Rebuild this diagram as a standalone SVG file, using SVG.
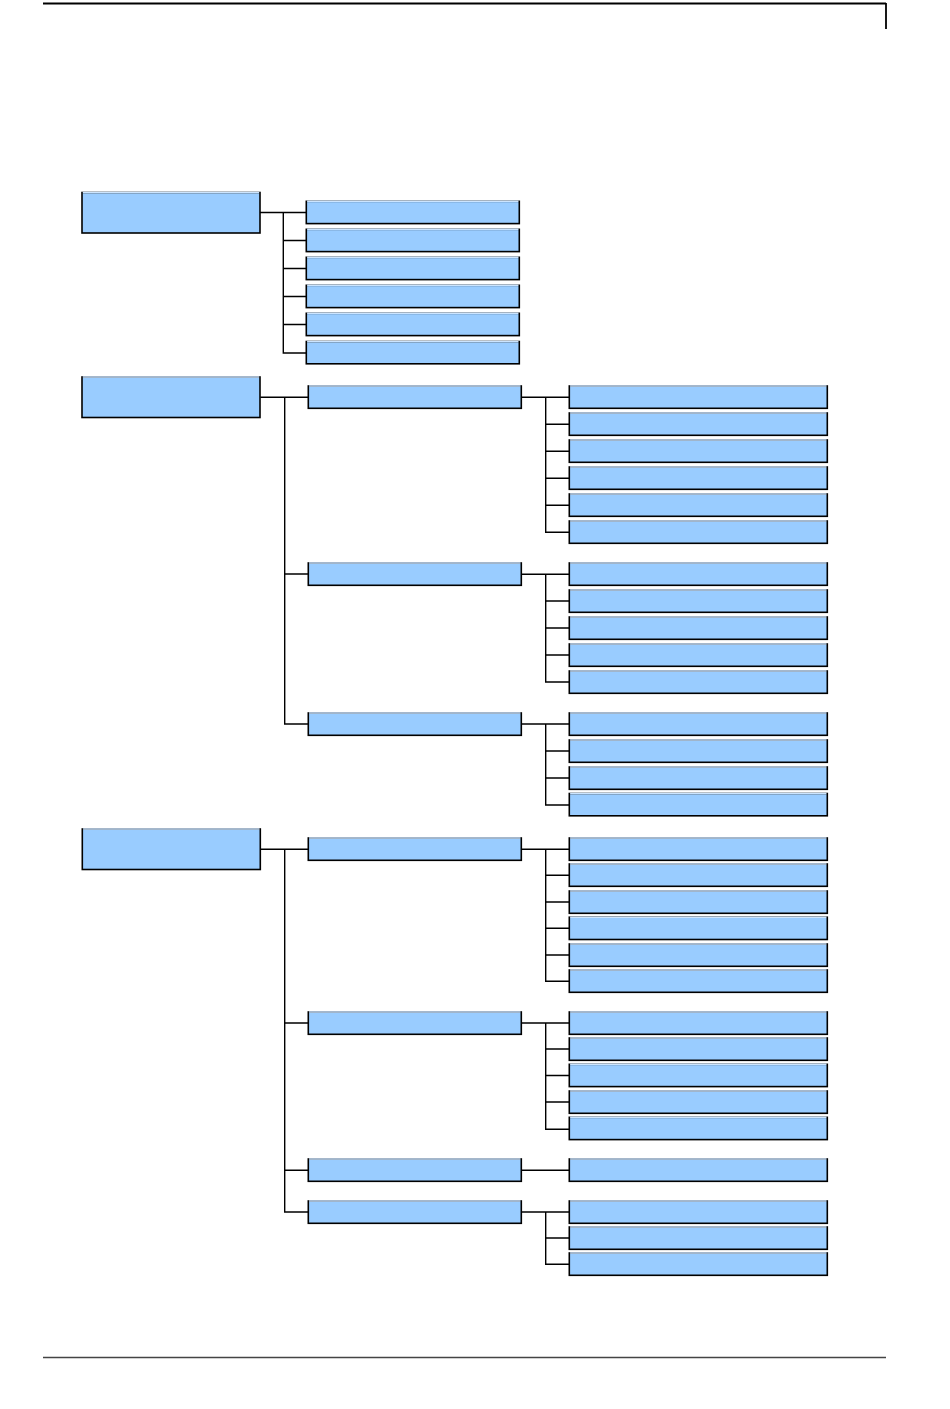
<svg xmlns="http://www.w3.org/2000/svg" width="950" height="1409" viewBox="0 0 950 1409">
<style>
.b{fill:#99ccff;stroke:#000;stroke-width:1.6}
.t{stroke:#cce5ff;stroke-width:1.6;fill:none}
.c{fill:none;stroke:#000;stroke-width:1.4}
.rule{stroke:#444;stroke-width:1.6;fill:none}
.top{stroke:#000;stroke-width:1.8;fill:none}
</style>
<defs>
<g id="n1"><rect class="b" x="0" y="0" width="178" height="40.5"/><path class="t" d="M0.8,0H177.2"/></g>
<g id="n2"><rect class="b" x="0" y="0" width="213" height="22.3"/><path class="t" d="M0.8,0H212.2"/></g>
<g id="n3"><rect class="b" x="0" y="0" width="258" height="22.3"/><path class="t" d="M0.8,0H257.2"/></g>
</defs>
<g id="page-rules">
<path class="top" d="M43,3.5H886M886,3V29"/>
<path class="rule" d="M43,1357.5H886"/>
</g>
<g id="connectors">
<path class="c" d="M259.5,212.5H306M283.3,212.5V353H306M283.3,240.5H306M283.3,268.5H306M283.3,296.5H306M283.3,324.5H306"/>
<path class="c" d="M260.3,397.3H308.3M284.7,397.3V724H308.3M284.7,574H308.3"/>
<path class="c" d="M521.7,397.3H569.3M545.7,397.3V532.3H569.3M545.7,424.3H569.3M545.7,451.3H569.3M545.7,478.3H569.3M545.7,505.3H569.3"/>
<path class="c" d="M521.7,574.2H569.3M545.7,574.2V682H569.3M545.7,601H569.3M545.7,628H569.3M545.7,655H569.3"/>
<path class="c" d="M521.7,724H569.3M545.7,724V805H569.3M545.7,751H569.3M545.7,778H569.3"/>
<path class="c" d="M260.3,849.2H308.3M284.7,849.2V1212H308.3M284.7,1023H308.3M284.7,1170.2H308.3"/>
<path class="c" d="M521.7,849.2H569.3M545.7,849.2V981.3H569.3M545.7,875.2H569.3M545.7,902H569.3M545.7,928.2H569.3M545.7,955H569.3"/>
<path class="c" d="M521.7,1023H569.3M545.7,1023V1129.3H569.3M545.7,1049H569.3M545.7,1075.5H569.3M545.7,1102H569.3"/>
<path class="c" d="M521.7,1170.2H569.3"/>
<path class="c" d="M521.7,1212H569.3M545.7,1212V1264.3H569.3M545.7,1238H569.3"/>
</g>
<g id="g1-root"><use href="#n1" x="82" y="192.5"/></g>
<g id="g1-c1"><use href="#n2" x="306.3" y="201.3"/></g>
<g id="g1-c2"><use href="#n2" x="306.3" y="229.3"/></g>
<g id="g1-c3"><use href="#n2" x="306.3" y="257.3"/></g>
<g id="g1-c4"><use href="#n2" x="306.3" y="285.3"/></g>
<g id="g1-c5"><use href="#n2" x="306.3" y="313.3"/></g>
<g id="g1-c6"><use href="#n2" x="306.3" y="341.5"/></g>

<g id="g2-root"><use href="#n1" x="82" y="377"/></g>
<g id="g2-s1"><use href="#n2" x="308.3" y="386"/></g>
<g id="g2-s1-1"><use href="#n3" x="569.3" y="386"/></g>
<g id="g2-s1-2"><use href="#n3" x="569.3" y="413"/></g>
<g id="g2-s1-3"><use href="#n3" x="569.3" y="440"/></g>
<g id="g2-s1-4"><use href="#n3" x="569.3" y="467"/></g>
<g id="g2-s1-5"><use href="#n3" x="569.3" y="494"/></g>
<g id="g2-s1-6"><use href="#n3" x="569.3" y="521"/></g>
<g id="g2-s2"><use href="#n2" x="308.3" y="563"/></g>
<g id="g2-s2-1"><use href="#n3" x="569.3" y="563"/></g>
<g id="g2-s2-2"><use href="#n3" x="569.3" y="590"/></g>
<g id="g2-s2-3"><use href="#n3" x="569.3" y="617"/></g>
<g id="g2-s2-4"><use href="#n3" x="569.3" y="644"/></g>
<g id="g2-s2-5"><use href="#n3" x="569.3" y="671"/></g>
<g id="g2-s3"><use href="#n2" x="308.3" y="713"/></g>
<g id="g2-s3-1"><use href="#n3" x="569.3" y="713"/></g>
<g id="g2-s3-2"><use href="#n3" x="569.3" y="740"/></g>
<g id="g2-s3-3"><use href="#n3" x="569.3" y="767"/></g>
<g id="g2-s3-4"><use href="#n3" x="569.3" y="793.5"/></g>

<g id="g3-root"><use href="#n1" x="82.3" y="829"/></g>
<g id="g3-s1"><use href="#n2" x="308.3" y="838"/></g>
<g id="g3-s1-1"><use href="#n3" x="569.3" y="838"/></g>
<g id="g3-s1-2"><use href="#n3" x="569.3" y="864"/></g>
<g id="g3-s1-3"><use href="#n3" x="569.3" y="891"/></g>
<g id="g3-s1-4"><use href="#n3" x="569.3" y="917.2"/></g>
<g id="g3-s1-5"><use href="#n3" x="569.3" y="944"/></g>
<g id="g3-s1-6"><use href="#n3" x="569.3" y="970"/></g>
<g id="g3-s2"><use href="#n2" x="308.3" y="1012"/></g>
<g id="g3-s2-1"><use href="#n3" x="569.3" y="1012"/></g>
<g id="g3-s2-2"><use href="#n3" x="569.3" y="1038"/></g>
<g id="g3-s2-3"><use href="#n3" x="569.3" y="1064.3"/></g>
<g id="g3-s2-4"><use href="#n3" x="569.3" y="1091"/></g>
<g id="g3-s2-5"><use href="#n3" x="569.3" y="1117.3"/></g>
<g id="g3-s3"><use href="#n2" x="308.3" y="1159"/></g>
<g id="g3-s3-1"><use href="#n3" x="569.3" y="1159"/></g>
<g id="g3-s4"><use href="#n2" x="308.3" y="1201"/></g>
<g id="g3-s4-1"><use href="#n3" x="569.3" y="1201"/></g>
<g id="g3-s4-2"><use href="#n3" x="569.3" y="1227"/></g>
<g id="g3-s4-3"><use href="#n3" x="569.3" y="1253"/></g>
</svg>
